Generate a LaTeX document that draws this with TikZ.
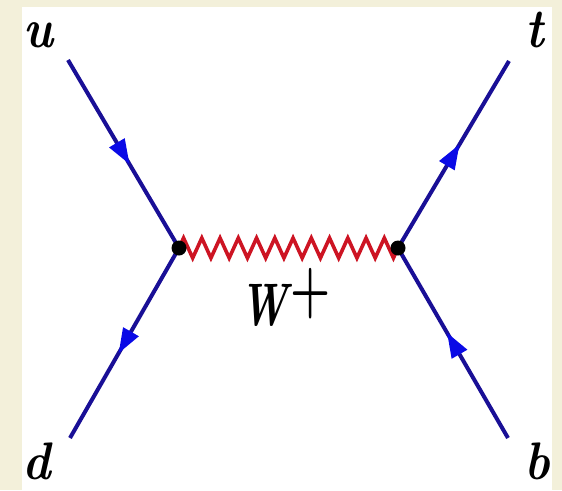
\documentclass[tikz,border=0pt]{standalone}
\usepackage{fontspec}
\usetikzlibrary{decorations.pathmorphing,decorations.markings,arrows.meta}
\definecolor{cream}{RGB}{243,240,218}
\definecolor{fermblue}{RGB}{25,15,150}
\definecolor{arrblue}{RGB}{10,10,230}
\definecolor{wred}{RGB}{205,20,35}
\begin{document}
\begin{tikzpicture}[x=1pt,y=-1pt,
  fermion/.style={draw=fermblue,line width=4pt,postaction={decorate},
    decoration={markings,mark=at position 0.5 with {\arrow[arrblue,xshift=12pt]{Triangle[length=25pt,width=17pt]}}}},
  wboson/.style={draw=wred,line width=3.6pt,decorate,
    decoration={zigzag,segment length=18.25pt,amplitude=10pt}},
  vdot/.style={circle,fill=black,inner sep=0pt,minimum size=15pt},
  lbl/.style={inner sep=0pt,anchor=base,font=\fontsize{48}{48}\selectfont\bfseries\itshape}]
\useasboundingbox (0,0) rectangle (562,490);
\fill[cream] (0,0) rectangle (562,490);
\fill[white] (22,7) rectangle (552,490);
% external points and vertices
\coordinate (u) at (68,60);
\coordinate (d) at (70,438);
\coordinate (t) at (509,61);
\coordinate (b) at (508,438);
\coordinate (v1) at (179,248);
\coordinate (v2) at (398,248);
% propagators
\draw[wboson] (v1) -- (v2);
\draw[fermion] (u) -- (v1);
\draw[fermion] (v1) -- (d);
\draw[fermion] (v2) -- (t);
\draw[fermion] (b) -- (v2);
\node[vdot] (dotL) at (v1) {};
\node[vdot] (dotR) at (v2) {};
% labels
\node[lbl] (lu) at (38,47) {\scalebox{1}[1.15]{u}};
\node[lbl] (lt) at (535,47) {\scalebox{1}[1.15]{t}};
\node[lbl] (ld) at (37,479) {\scalebox{1}[1.1]{d}};
\node[lbl] (lb) at (537,479) {\scalebox{1}[1.1]{b}};
\node[lbl] (lw) at (286,325) {\scalebox{0.85}[1.25]{W\hspace{3pt}\raisebox{0.24em}{\fontsize{54}{54}\selectfont\upshape +}}};
\end{tikzpicture}
\end{document}
